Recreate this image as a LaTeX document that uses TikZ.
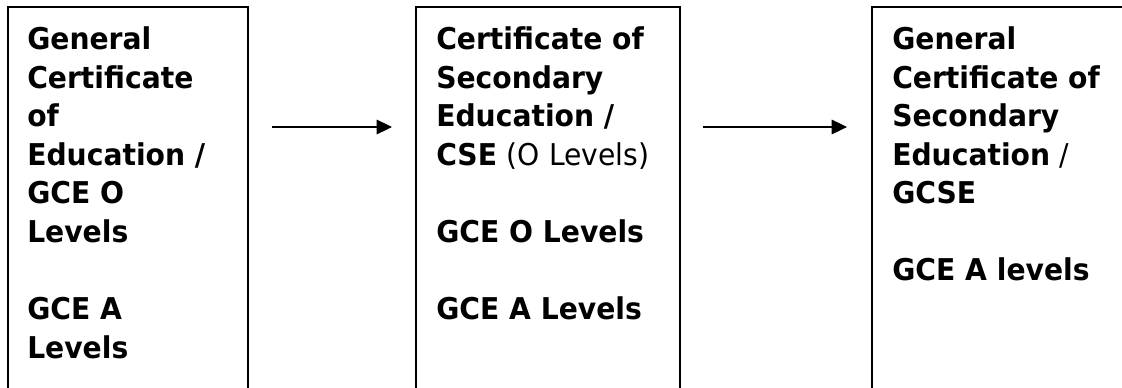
\documentclass[tikz,border=0pt]{standalone}
\usepackage{fontspec}
\setmainfont{DejaVu Sans}[FakeStretch=0.94]
\usetikzlibrary{calc,arrows.meta}

\begin{document}
\begin{tikzpicture}[x=0.75pt,y=-0.75pt,
  box/.style={draw,line width=1.5pt,anchor=north west,inner sep=0pt,outer sep=0pt,minimum height=330pt},
  txt/.style={anchor=north west,align=left,inner sep=0pt,font={\fontsize{22.5pt}{28.9pt}\selectfont\bfseries}},
  flow/.style={line width=0.8pt,-{Triangle[length=11.5pt,width=11pt]}}]
\clip (0,0) rectangle (1122,387);
\node[box,minimum width=180pt] (gce) at (8,7) {};
\node[box,minimum width=198pt] (cse) at (416,7) {};
\node[box,minimum width=240pt] (gcse) at (872,7) {};
\node[txt] (gcetxt) at ($(gce.north west)+(19,19.7)$) {General\\Certificate\\of\\Education /\\GCE O\\Levels\\[28.9pt]GCE A\\Levels};
\node[txt] (csetxt) at ($(cse.north west)+(20,19.7)$) {Certificate of\\Secondary\\Education /\\CSE {\mdseries (O Levels)}\\[28.9pt]GCE O Levels\\[28.9pt]GCE A Levels};
\node[txt] (gcsetxt) at ($(gcse.north west)+(20,19.7)$) {General\\Certificate of\\Secondary\\Education {\mdseries /}\\GCSE\\[28.9pt]GCE A levels};
\draw[flow] ($(gce.north east)+(24,120)$) -- ($(cse.north west)+(-24,120)$);
\draw[flow] ($(cse.north east)+(23,120)$) -- ($(gcse.north west)+(-25,120)$);
\end{tikzpicture}
\end{document}
